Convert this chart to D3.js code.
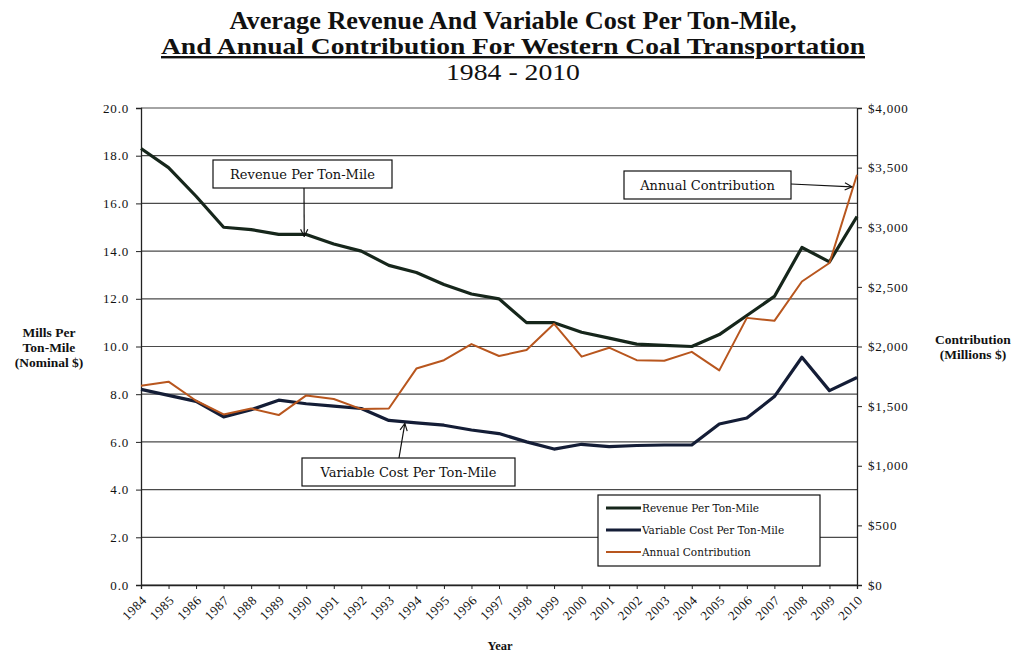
<!DOCTYPE html>
<html>
<head>
<meta charset="utf-8">
<script src="https://cdn.jsdelivr.net/npm/d3@7/dist/d3.min.js"></script>
<style>
  html, body { margin: 0; padding: 0; background: #ffffff; }
  svg { display: block; }
</style>
</head>
<body>
<svg id="chart" width="1015" height="653"></svg>
<script>
// Western coal transportation, 1984-2010
const years = d3.range(1984, 2011);

// Mills per ton-mile (nominal $)
const revenuePerTonMile = [18.3, 17.5, 16.3, 15.0, 14.9, 14.7, 14.7, 14.3, 14.0, 13.4, 13.1, 12.6, 12.2, 12.0,
  11.0, 11.0, 10.6, 10.35, 10.1, 10.05, 10.0, 10.5, 11.3, 12.1, 14.15, 13.55, 15.45];
const variableCostPerTonMile = [8.2, 7.95, 7.7, 7.05, 7.35, 7.75, 7.6, 7.5, 7.4, 6.9, 6.8, 6.7, 6.5, 6.35,
  6.0, 5.7, 5.9, 5.8, 5.85, 5.87, 5.87, 6.75, 7.0, 7.9, 9.55, 8.15, 8.7];

// Annual contribution (millions $)
const annualContribution = [1670, 1705, 1545, 1430, 1480, 1425, 1590, 1560, 1475, 1480, 1815, 1885, 2020, 1920,
  1970, 2190, 1915, 1990, 1885, 1880, 1955, 1800, 2240, 2215, 2545, 2700, 3440];

const leftTicks = d3.range(0, 20.01, 2);
const rightTicks = d3.range(0, 4001, 500);

const seriesNames = ["Revenue Per Ton-Mile", "Variable Cost Per Ton-Mile", "Annual Contribution"];
const seriesColors = ["#16261b", "#141d36", "#b8561e"];

const SERIF = "'Liberation Serif', 'Times New Roman', serif";
const WIDE_SERIF = "'DejaVu Serif', serif";

const svg = d3.select("#chart");
const plot = { left: 141, right: 857, top: 108, bottom: 585 };

const x = d3.scalePoint().domain(years).range([plot.left, plot.right]);
const yL = d3.scaleLinear().domain([0, 20]).range([plot.bottom, plot.top]);
const yR = d3.scaleLinear().domain([0, 4000]).range([plot.bottom, plot.top]);

// Title block
const title = svg.append("g").attr("text-anchor", "middle");
title.append("text").attr("x", 513).attr("y", 29)
  .style("font-size", "25px").style("font-weight", "bold")
  .attr("textLength", 567).attr("lengthAdjust", "spacingAndGlyphs")
  .text("Average Revenue And Variable Cost Per Ton-Mile,");
title.append("text").attr("x", 513).attr("y", 54)
  .style("font-size", "24px").style("font-weight", "bold")
  .style("text-decoration", "underline")
  .attr("textLength", 704).attr("lengthAdjust", "spacingAndGlyphs")
  .text("And Annual Contribution For Western Coal Transportation");
title.append("text").attr("x", 513).attr("y", 80)
  .style("font-size", "23px")
  .attr("textLength", 134).attr("lengthAdjust", "spacingAndGlyphs")
  .text("1984 - 2010");

// Horizontal gridlines
svg.append("g").selectAll("line").data(leftTicks).join("line")
  .attr("x1", plot.left).attr("x2", plot.right)
  .attr("y1", d => yL(d)).attr("y2", d => yL(d))
  .attr("stroke", "#4a4a4a").attr("stroke-width", 1.2);

// Left axis
const axL = svg.append("g").attr("transform", `translate(${plot.left},0)`)
  .call(d3.axisLeft(yL).tickValues(leftTicks).tickFormat(d3.format(".1f")).tickSize(5).tickPadding(7));
axL.select(".domain").attr("stroke", "#222").attr("stroke-width", 1.3);
axL.selectAll(".tick line").attr("stroke", "#222");
axL.selectAll(".tick text").style("font-size", "13px").style("letter-spacing", "0.8px");

// Right axis
const axR = svg.append("g").attr("transform", `translate(${plot.right},0)`)
  .call(d3.axisRight(yR).tickValues(rightTicks).tickFormat(d => "$" + d3.format(",")(d)).tickSize(5).tickPadding(6));
axR.select(".domain").attr("stroke", "#222").attr("stroke-width", 1.3);
axR.selectAll(".tick line").attr("stroke", "#222");
axR.selectAll(".tick text").style("font-size", "13px").style("letter-spacing", "0.8px");

// Bottom axis
const axB = svg.append("g").attr("transform", `translate(0,${plot.bottom})`)
  .call(d3.axisBottom(x).tickSize(4).tickPadding(4));
axB.select(".domain").attr("stroke", "#222").attr("stroke-width", 1.3);
axB.selectAll(".tick line").attr("stroke", "#222");
axB.selectAll(".tick text")
  .style("font-size", "13px").style("letter-spacing", "0.6px")
  .attr("text-anchor", "end")
  .attr("dy", null).attr("y", null)
  .attr("transform", "translate(6,16) rotate(-45)");

// Axis titles
const leftTitle = svg.append("g").attr("text-anchor", "middle")
  .style("font-size", "13.5px").style("font-weight", "bold");
["Mills Per", "Ton-Mile", "(Nominal $)"].forEach((s, i) =>
  leftTitle.append("text").attr("x", 49).attr("y", 337 + i * 15).text(s));
const rightTitle = svg.append("g").attr("text-anchor", "middle")
  .style("font-size", "13.5px").style("font-weight", "bold");
["Contribution", "(Millions $)"].forEach((s, i) =>
  rightTitle.append("text").attr("x", 973).attr("y", 344 + i * 15).text(s));
svg.append("text").attr("x", 500).attr("y", 650).attr("text-anchor", "middle")
  .style("font-size", "12.5px").style("font-weight", "bold").text("Year");

// Lines
const lineL = d3.line().x((d, i) => x(years[i])).y(d => yL(d));
const lineR = d3.line().x((d, i) => x(years[i])).y(d => yR(d));

svg.append("path").datum(variableCostPerTonMile).attr("d", lineL)
  .attr("fill", "none").attr("stroke", seriesColors[1]).attr("stroke-width", 3.2).attr("stroke-linejoin", "round");
svg.append("path").datum(revenuePerTonMile).attr("d", lineL)
  .attr("fill", "none").attr("stroke", seriesColors[0]).attr("stroke-width", 3.2).attr("stroke-linejoin", "round");
svg.append("path").datum(annualContribution).attr("d", lineR)
  .attr("fill", "none").attr("stroke", seriesColors[2]).attr("stroke-width", 2).attr("stroke-linejoin", "round");

// Everything drawn so far uses the Times-like serif
svg.selectAll("text").style("font-family", SERIF).attr("fill", "#111");

// Arrowhead marker
svg.append("defs").append("marker")
  .attr("id", "arrow").attr("viewBox", "0 0 10 10").attr("refX", 9).attr("refY", 5)
  .attr("markerWidth", 9).attr("markerHeight", 9).attr("orient", "auto-start-reverse")
  .attr("markerUnits", "userSpaceOnUse")
  .append("path").attr("d", "M1,1 L9,5 L1,9").attr("fill", "none").attr("stroke", "#111").attr("stroke-width", 1.3);

// Callout boxes with arrows
function callout(label, bx, by, bw, bh, from, to) {
  const g = svg.append("g");
  g.append("line").attr("x1", from[0]).attr("y1", from[1]).attr("x2", to[0]).attr("y2", to[1])
    .attr("stroke", "#111").attr("stroke-width", 1.2).attr("marker-end", "url(#arrow)");
  g.append("rect").attr("x", bx).attr("y", by).attr("width", bw).attr("height", bh)
    .attr("fill", "#fff").attr("stroke", "#111").attr("stroke-width", 1.2);
  g.append("text").attr("x", bx + bw / 2).attr("y", by + bh / 2 + 5)
    .attr("text-anchor", "middle").attr("fill", "#111")
    .style("font-family", WIDE_SERIF).style("font-size", "13px").text(label);
}
callout("Revenue Per Ton-Mile", 213, 160, 179, 28,
  [304, 188], [x(1990) - 2, yL(revenuePerTonMile[6]) + 2]);
callout("Annual Contribution", 624, 171, 167, 28,
  [791, 184], [x(2010) - 5, yR(annualContribution[26]) + 12]);
callout("Variable Cost Per Ton-Mile", 302, 458, 213, 28,
  [399, 458], [x(1993) + 16, yL(variableCostPerTonMile[9]) + 3]);

// Legend
const legend = svg.append("g");
legend.append("rect").attr("x", 598).attr("y", 495).attr("width", 222).attr("height", 71)
  .attr("fill", "#fff").attr("stroke", "#111").attr("stroke-width", 1.2);
seriesNames.forEach((name, i) => {
  const ly = 508 + i * 22;
  legend.append("line").attr("x1", 606).attr("x2", 641).attr("y1", ly).attr("y2", ly)
    .attr("stroke", seriesColors[i]).attr("stroke-width", i === 2 ? 2 : 3.2);
  legend.append("text").attr("x", 642).attr("y", ly + 4).attr("fill", "#111")
    .style("font-family", WIDE_SERIF).style("font-size", "10.5px").text(name);
});
</script>
</body>
</html>
